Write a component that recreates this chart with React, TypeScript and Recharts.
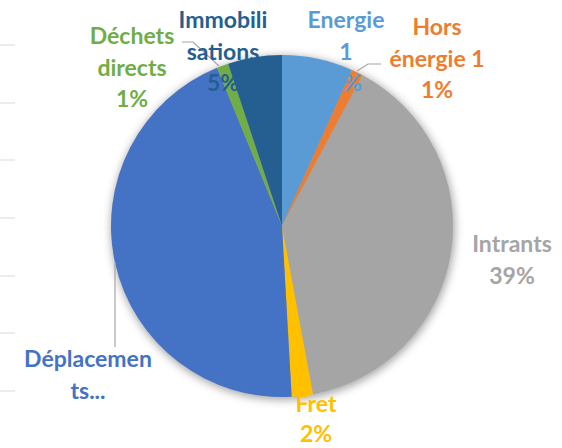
import React from "react";
import { PieChart, Pie, Cell } from "recharts";

const categories = [
  "Energie 1",
  "Hors énergie 1",
  "Intrants",
  "Fret",
  "Déplacements",
  "Déchets directs",
  "Immobilisations",
];
const values = [6.7, 1.1, 39.3, 2.0, 44.7, 1.1, 5.1];
const labelLines = [
  ["Energie", "1"],
  ["Hors", "énergie 1"],
  ["Intrants"],
  ["Fret"],
  ["Déplacemen", "ts..."],
  ["Déchets", "directs"],
  ["Immobili", "sations"],
];
const showPercent = [true, true, true, true, false, true, true];
const colors = ["#5B9BD5", "#ED7D31", "#A5A5A5", "#FFC000", "#4472C4", "#70AD47", "#255E91"];

// label layout (chart px): center x, first line y
const labelLayout = [
  { x: 346, y: 19 },
  { x: 437, y: 26 },
  { x: 512, y: 243 },
  { x: 316, y: 403 },
  { x: 88, y: 358 },
  { x: 132, y: 35 },
  { x: 223, y: 19 },
];
const leaders: Record<number, string> = {
  1: "M357,71 L368,64 L381,64",
  4: "M115,262 L115,347",
  5: "M182,42 L193,42 L219,66",
};

const data = categories.map((name, i) => ({ name, value: values[i] }));
const total = values.reduce((a, b) => a + b, 0);
const LINE = 31.7;

const renderLabel = (props: any) => {
  const i = props.index;
  const lay = labelLayout[i];
  const lines = [...labelLines[i]];
  if (showPercent[i]) lines.push(`${Math.round((values[i] / total) * 100)}%`);
  const gap = i === 3 ? 30 : LINE;
  return (
    <g key={`lbl-${i}`}>
      {leaders[i] && <path d={leaders[i]} stroke="#A6A6A6" strokeWidth={1.2} fill="none" />}
      <text
        x={lay.x}
        y={lay.y}
        textAnchor="middle"
        dominantBaseline="central"
        fill={colors[i]}
        fontFamily="Lato, 'Open Sans', sans-serif"
        fontWeight={700}
        fontSize={23}
      >
        {lines.map((l, k) => (
          <tspan key={k} x={lay.x} y={lay.y + k * gap}>
            {l}
          </tspan>
        ))}
      </text>
    </g>
  );
};

const tickYs = [45, 103, 160, 218, 276, 333, 391];

export default function App() {
  return (
    <div style={{ position: "absolute", left: 0, top: 0, background: "#fff" }}>
      <PieChart width={562} height={448} margin={{ top: 0, right: 0, bottom: 0, left: 0 }}>
        <defs>
          <filter id="pieShadow" x="-20%" y="-20%" width="140%" height="140%">
            <feGaussianBlur stdDeviation="4" />
          </filter>
        </defs>
        <g>
          {tickYs.map((y) => (
            <line key={y} x1={0} x2={15} y1={y} y2={y} stroke="#D9D9D9" strokeWidth={1} />
          ))}
        </g>
        <Pie
          data={[{ name: "shadow", value: 1 }]}
          dataKey="value"
          cx={283}
          cy={228}
          outerRadius={172}
          startAngle={90}
          endAngle={-270}
          isAnimationActive={false}
          stroke="none"
          label={false}
          labelLine={false}
        >
          <Cell fill="#000" fillOpacity={0.35} filter="url(#pieShadow)" />
        </Pie>
        <Pie
          data={data}
          dataKey="value"
          nameKey="name"
          cx={282}
          cy={226}
          outerRadius={171}
          startAngle={90}
          endAngle={-270}
          isAnimationActive={false}
          stroke="none"
          labelLine={false}
          label={renderLabel}
        >
          {data.map((d, i) => (
            <Cell key={d.name} fill={colors[i]} />
          ))}
        </Pie>
      </PieChart>
    </div>
  );
}
